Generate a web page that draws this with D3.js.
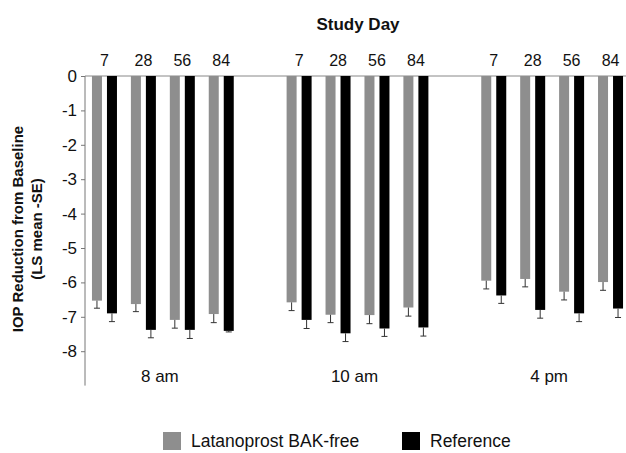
<!DOCTYPE html>
<html>
<head>
<meta charset="utf-8">
<script src="https://cdn.jsdelivr.net/npm/d3@7"></script>
<style>
  body { margin: 0; background: #fff; }
  text { font-family: "Liberation Sans", Arial, sans-serif; fill: #111; }
</style>
</head>
<body>
<div id="chart"></div>
<script>
// data
var times = ["8 am", "10 am", "4 pm"];
var days = ["7", "28", "56", "84"];
var series = ["Latanoprost BAK-free", "Reference"];
var yTicks = [0, -1, -2, -3, -4, -5, -6, -7, -8];

// LS mean per time point, day order 7, 28, 56, 84
var latanoMean = [
  [-6.53, -6.63, -7.09, -6.92],
  [-6.58, -6.94, -6.95, -6.73],
  [-5.95, -5.90, -6.27, -5.99]
];
var latanoSE = [
  [0.22, 0.22, 0.24, 0.25],
  [0.24, 0.23, 0.25, 0.25],
  [0.24, 0.23, 0.24, 0.24]
];
var refMean = [
  [-6.90, -7.38, -7.38, -7.41],
  [-7.09, -7.48, -7.34, -7.31],
  [-6.38, -6.80, -6.90, -6.76]
];
var refSE = [
  [0.24, 0.23, 0.25, 0.03],
  [0.25, 0.24, 0.23, 0.25],
  [0.23, 0.24, 0.24, 0.26]
];

var w = 626, h = 453;
var colors = { "Latanoprost BAK-free": "#8e8e8e", "Reference": "#000" };

var svg = d3.select("#chart").append("svg")
  .attr("width", w)
  .attr("height", h);

var y = d3.scaleLinear().domain([0, -9]).range([76, 385.6]);

var x0 = d3.scaleBand().domain(times).range([85, 630]).paddingInner(0.2).paddingOuter(0);
var x1 = d3.scaleBand().domain(days).range([0, x0.bandwidth()]);
var x2 = d3.scaleBand().domain(series).range([-12.5, 12.5]).paddingInner(1 / 3);

// flatten into bar records
var bars = [];
times.forEach(function(t, ti) {
  days.forEach(function(d, di) {
    bars.push({ time: t, day: d, s: series[0], v: latanoMean[ti][di], se: latanoSE[ti][di] });
    bars.push({ time: t, day: d, s: series[1], v: refMean[ti][di], se: refSE[ti][di] });
  });
});

function cx(d) {
  return x0(d.time) + x1(d.day) + x1.bandwidth() / 2;
}

// top baseline
svg.append("line")
  .attr("x1", 85).attr("x2", 626)
  .attr("y1", y(0)).attr("y2", y(0))
  .attr("stroke", "#888").attr("stroke-width", 1);

// bars
svg.selectAll("rect.bar")
  .data(bars)
  .enter()
  .append("rect")
  .attr("class", "bar")
  .attr("x", function(d) { return cx(d) + x2(d.s); })
  .attr("width", x2.bandwidth())
  .attr("y", y(0))
  .attr("height", function(d) { return y(d.v) - y(0); })
  .attr("fill", function(d) { return colors[d.s]; });

// error bars (mean - SE)
var err = svg.selectAll("g.err")
  .data(bars)
  .enter()
  .append("g")
  .attr("class", "err")
  .attr("stroke", "#333")
  .attr("stroke-width", 1);

err.append("line")
  .attr("x1", function(d) { return cx(d) + x2(d.s) + x2.bandwidth() / 2; })
  .attr("x2", function(d) { return cx(d) + x2(d.s) + x2.bandwidth() / 2; })
  .attr("y1", function(d) { return y(d.v); })
  .attr("y2", function(d) { return y(d.v - d.se); });

err.append("line")
  .attr("x1", function(d) { return cx(d) + x2(d.s) + x2.bandwidth() / 2 - 3; })
  .attr("x2", function(d) { return cx(d) + x2(d.s) + x2.bandwidth() / 2 + 3; })
  .attr("y1", function(d) { return y(d.v - d.se); })
  .attr("y2", function(d) { return y(d.v - d.se); });

// y axis (plain hyphen minus like the reference)
var yAxis = svg.append("g")
  .attr("transform", "translate(85,0)")
  .call(d3.axisLeft(y).tickValues(yTicks).tickSize(4).tickPadding(4).tickFormat(function(d) { return String(d); }));
yAxis.select(".domain").attr("d", "M0," + y(0) + "V" + y(-9)).attr("stroke", "#777");
yAxis.selectAll(".tick line").attr("stroke", "#777");
yAxis.selectAll(".tick text")
  .style("font-family", "Liberation Sans, Arial, sans-serif")
  .style("font-size", "17px")
  .attr("fill", "#111");

// day labels across the top
var dayLabels = [];
times.forEach(function(t) {
  days.forEach(function(d) { dayLabels.push({ time: t, day: d }); });
});
svg.selectAll("text.day")
  .data(dayLabels)
  .enter()
  .append("text")
  .attr("class", "day")
  .attr("x", function(d) { return cx(d); })
  .attr("y", 66)
  .attr("text-anchor", "middle")
  .style("font-size", "16px")
  .text(function(d) { return d.day; });

svg.append("text")
  .attr("x", 358)
  .attr("y", 30)
  .attr("text-anchor", "middle")
  .style("font-size", "17px")
  .style("font-weight", "bold")
  .text("Study Day");

// time of day labels
svg.selectAll("text.time")
  .data(times)
  .enter()
  .append("text")
  .attr("class", "time")
  .attr("x", function(d) { return x0(d) + x0.bandwidth() / 2 - 3; })
  .attr("y", 382)
  .attr("text-anchor", "middle")
  .style("font-size", "17px")
  .text(function(d) { return d; });

// y title
var yt = svg.append("text")
  .attr("transform", "translate(0,229) rotate(-90)")
  .attr("text-anchor", "middle")
  .style("font-size", "15px")
  .style("font-weight", "bold");
yt.append("tspan").attr("x", 0).attr("y", 23).text("IOP Reduction from Baseline");
yt.append("tspan").attr("x", 0).attr("y", 42).text("(LS mean -SE)");

// legend
var legendX = [163, 402];
var lg = svg.selectAll("g.legend")
  .data(series)
  .enter()
  .append("g")
  .attr("class", "legend")
  .attr("transform", function(d, i) { return "translate(" + legendX[i] + ",432)"; });
lg.append("rect")
  .attr("width", 18).attr("height", 18)
  .attr("fill", function(d) { return colors[d]; });
lg.append("text")
  .attr("x", 28)
  .attr("y", 15)
  .style("font-size", "17.5px")
  .text(function(d) { return d; });
</script>
</body>
</html>
